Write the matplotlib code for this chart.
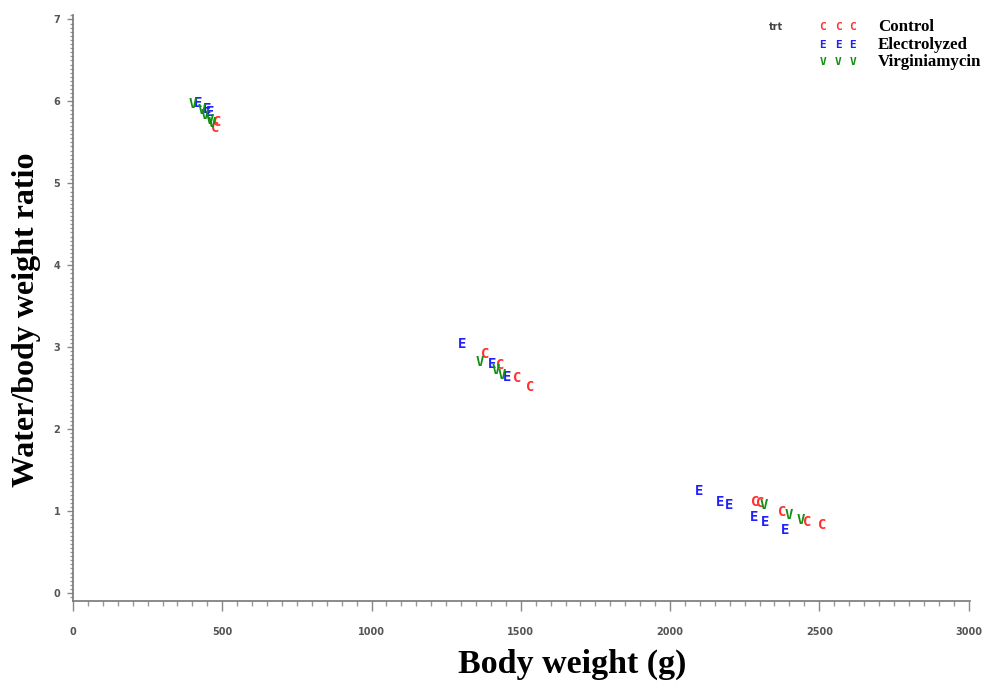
import matplotlib
matplotlib.use("Agg")
import matplotlib.pyplot as plt
from matplotlib.ticker import MultipleLocator

# ---- data ----
control_x = [476, 482, 1381, 1431, 1487, 1532, 2286, 2303, 2376, 2459, 2510]
control_y = [5.67, 5.75, 2.92, 2.78, 2.62, 2.52, 1.11, 1.10, 0.99, 0.87, 0.83]

electro_x = [420, 448, 459, 1303, 1403, 1454, 2096, 2169, 2197, 2281, 2320, 2387]
electro_y = [5.98, 5.91, 5.87, 3.04, 2.80, 2.64, 1.24, 1.11, 1.07, 0.93, 0.87, 0.77]

virgin_x = [400, 431, 442, 459, 465, 1364, 1415, 1437, 2314, 2398, 2437]
virgin_y = [5.97, 5.89, 5.83, 5.77, 5.73, 2.82, 2.72, 2.66, 1.07, 0.95, 0.89]

groups = ["Control", "Electrolyzed", "Virginiamycin"]
letters = ["C", "E", "V"]
colors = ["#ff3030", "#2020ff", "#109010"]
xticks = [0, 500, 1000, 1500, 2000, 2500, 3000]
yticks = [0, 1, 2, 3, 4, 5, 6, 7]

fig = plt.figure(figsize=(10, 6.85), dpi=100)
ax = fig.add_axes([0.073, 0.1226, 0.897, 0.855])
ax.set_xlim(0, 3005)
ax.set_ylim(-0.098, 7.05)

series = [(control_x, control_y), (electro_x, electro_y), (virgin_x, virgin_y)]
for (xs, ys), let, col in zip(series, letters, colors):
    for x, y in zip(xs, ys):
        ax.text(x, y, let, color=col, ha="center", va="center",
                fontsize=10, family="DejaVu Sans Mono", fontweight="bold")

for s in ["top", "right"]:
    ax.spines[s].set_visible(False)
for s in ["left", "bottom"]:
    ax.spines[s].set_color("#777777")
    ax.spines[s].set_linewidth(1.2)

ax.set_xticks(xticks)
ax.set_yticks(yticks)
ax.xaxis.set_minor_locator(MultipleLocator(50))
ax.yaxis.set_minor_locator(MultipleLocator(0.05))
ax.tick_params(axis="x", which="major", length=7, width=1, color="#888888",
               pad=12, labelsize=7, labelcolor="#555555")
ax.tick_params(axis="x", which="minor", length=3.5, width=1, color="#999999")
ax.tick_params(axis="y", which="major", length=4, width=1, color="#888888",
               pad=5, labelsize=7, labelcolor="#555555")
ax.tick_params(axis="y", which="minor", length=2.5, width=1, color="#999999")
for lab in ax.get_xticklabels() + ax.get_yticklabels():
    lab.set_fontweight("bold")

ax.set_xlabel("Body weight (g)", family="Liberation Serif", fontweight="bold",
              fontsize=24.5, labelpad=8)
ax.xaxis.label.set_x(0.557)
ax.set_ylabel("Water/body weight ratio", family="Liberation Serif",
              fontweight="bold", fontsize=23, labelpad=9)
ax.yaxis.label.set_y(0.481)

# ---- legend drawn manually ----
row_y = [0.9606, 0.934, 0.909]
fig.text(0.776, row_y[0], "trt", fontsize=7, color="#444444",
         fontweight="bold", va="center", ha="center")
for i, (g, let, col) in enumerate(zip(groups, letters, colors)):
    yy = row_y[i]
    for xx in [0.823, 0.838, 0.853]:
        fig.text(xx, yy, let, color=col, fontsize=8, family="DejaVu Sans Mono",
                 fontweight="bold", ha="center", va="center")
    fig.text(0.878, yy, g, fontsize=12.2, family="Liberation Serif",
             fontweight="bold", ha="left", va="center")

fig.savefig("out.png", dpi=100)
